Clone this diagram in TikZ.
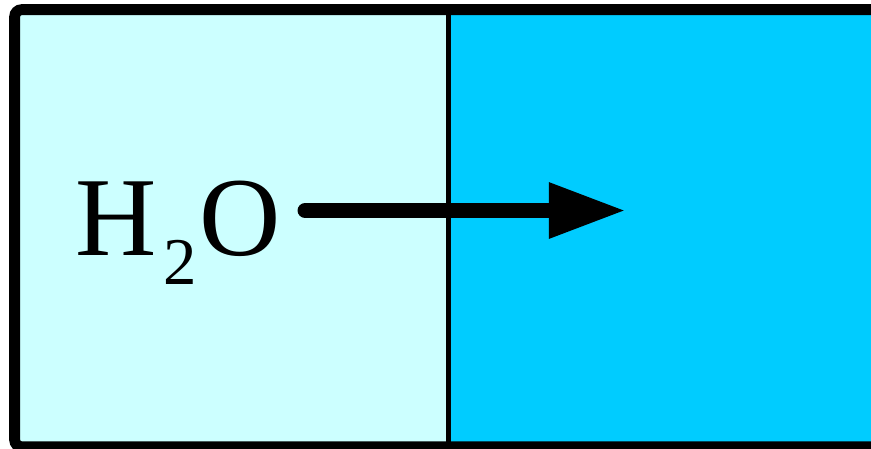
\documentclass[tikz,border=0pt]{standalone}
\usepackage{fontspec}
\setmainfont{Liberation Serif}
\usetikzlibrary{arrows.meta, positioning}
\definecolor{paleC}{HTML}{CCFFFF}
\definecolor{deepC}{HTML}{00CCFF}
\tikzset{
  region/.style={rectangle, draw=none, inner sep=0pt, minimum height=4.355cm},
  rgPale/.style={region, fill=paleC, minimum width=4.32cm},
  rgDeep/.style={region, fill=deepC, minimum width=4.4cm},
  frame/.style={line width=3.1pt, draw=black, rounded corners=2pt},
  wall/.style={line width=1.4pt, draw=black},
  arw/.style={-{Triangle[length=0.77cm, width=0.52cm]}, line width=4.25pt, line cap=round, draw=black},
  chem/.style={font=\fontsize{32}{32}\selectfont, inner sep=0pt, anchor=base west}
}
\begin{document}
\begin{tikzpicture}[x=0.01cm, y=-0.01cm]
  \useasboundingbox (0,0) rectangle (871,448);
  \clip (0,0) rectangle (871,448);
  % -- compartments --
  \node[rgPale] (pale) at (231.5,228.25) {};
  \node[rgDeep] (deep) at (667.5,228.25) {};
  \draw[wall] (pale.north east) -- (pale.south east);
  \draw[frame] (deep.north east) -- (pale.north west) -- (pale.south west) -- (deep.south east);

  % -- water flow --
  \node[chem] (water) at (75,255) {H\kern1.8pt\raisebox{-8.5pt}{\fontsize{19}{19}\selectfont 2}\kern0.8pt O};
  \coordinate (src) at (305,210.5);
  \coordinate (dst) at (626,210.5);
  \draw[arw] (src) -- (dst);
\end{tikzpicture}
\end{document}
